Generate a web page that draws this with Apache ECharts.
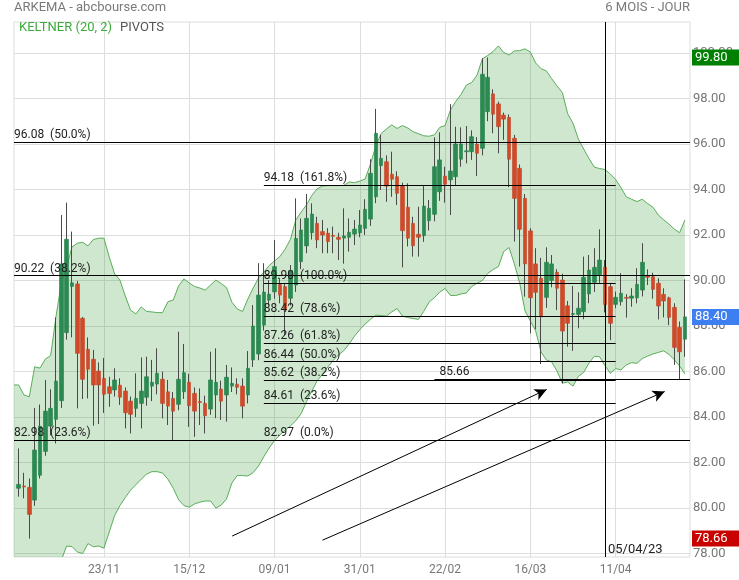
<!DOCTYPE html>
<html><head><meta charset="utf-8">
<script src="https://cdn.jsdelivr.net/npm/echarts@6/dist/echarts.min.js"></script>
<style>html,body{margin:0;padding:0;background:#fff}#c{width:739px;height:580px}</style>
</head><body><div id="c"></div>
<script>
// ---- data (index 0 = first session, 01/11/22) ----
const opens = [80.87,80.97,80.91,80.35,81.44,82.49,83.60,83.90,84.72,87.71,
89.74,89.85,88.34,86.98,86.54,86.02,85.70,85.33,85.19,85.40,
85.14,84.70,84.38,84.60,84.87,85.36,85.45,85.66,85.11,84.82,
84.56,85.11,85.53,85.04,84.68,84.60,84.35,84.97,85.23,84.97,
85.36,85.44,85.36,84.97,86.51,86.77,88.04,89.14,89.50,89.83,
89.73,89.22,89.80,90.83,91.52,92.10,92.51,92.15,92.08,91.98,
91.90,91.86,91.90,92.04,92.10,92.29,92.70,93.68,95.05,95.22,
94.67,94.56,94.17,93.22,92.51,92.03,91.97,92.63,92.91,93.90,
94.59,94.42,94.56,95.33,95.66,95.66,95.99,95.81,97.42,98.20,
97.76,97.27,97.17,96.25,94.93,93.61,92.18,90.73,90.10,89.26,
90.00,90.36,90.02,88.89,88.51,88.51,88.63,89.41,89.92,90.25,
90.58,89.73,88.95,89.07,89.26,89.22,89.24,89.58,90.20,90.17,
89.88,89.39,89.24,88.82,87.94,87.42];
const closes = [81.04,80.93,79.72,82.55,83.60,84.26,84.38,85.58,90.73,91.81,
89.90,86.80,85.66,86.10,85.41,85.41,85.00,85.04,85.63,84.87,
84.19,84.12,84.82,85.14,85.77,85.53,85.92,84.60,84.48,84.26,
85.66,85.95,84.50,84.26,84.64,84.06,85.63,85.53,84.70,85.75,
85.48,85.31,84.48,86.14,88.00,89.36,89.49,89.40,90.61,89.36,
88.70,90.43,91.85,92.22,92.73,92.92,91.78,92.00,91.71,91.94,
91.81,91.96,92.12,92.26,92.44,93.13,94.71,96.47,95.37,94.15,
94.45,93.83,92.19,91.86,91.53,91.90,93.27,93.17,95.00,95.30,
94.23,94.81,96.00,96.00,95.70,96.32,95.59,99.06,98.93,97.31,
96.76,97.09,95.33,93.61,92.25,90.73,89.24,89.48,88.41,90.80,
90.73,89.66,87.78,88.12,88.55,88.78,90.14,90.46,90.58,90.90,
88.95,88.12,89.26,89.44,89.22,89.32,89.83,90.80,90.14,89.61,
88.88,89.10,88.38,87.06,86.87,88.40];
const lows = [80.50,80.43,78.66,80.10,81.30,82.30,83.20,82.84,84.40,87.40,
87.50,84.38,84.79,84.82,83.62,83.69,84.18,84.45,84.90,84.53,
83.50,83.28,84.00,83.50,84.50,84.70,85.00,83.94,83.65,82.99,
84.30,84.80,83.57,83.13,83.65,83.28,84.10,83.95,83.87,83.80,
85.10,85.00,83.94,84.60,86.20,86.50,87.80,88.90,89.20,89.00,
87.60,88.90,89.50,90.50,91.20,91.80,91.42,91.20,91.20,91.20,
90.90,90.74,91.27,91.56,91.90,92.00,92.40,93.40,93.98,93.46,
93.68,93.32,90.58,91.50,91.05,91.05,91.70,92.20,92.60,93.50,
93.42,92.88,94.20,95.00,95.15,95.30,94.59,95.50,97.00,96.47,
95.59,96.18,94.10,91.71,90.61,89.29,87.68,87.86,86.33,88.80,
89.70,88.70,85.48,87.09,86.91,87.90,88.30,89.00,89.50,89.90,
88.60,87.38,88.78,88.90,88.37,88.85,89.00,89.30,89.80,89.20,
88.29,88.38,88.04,86.29,85.63,86.65];
const highs = [82.62,81.55,81.30,84.40,84.55,85.63,85.22,88.38,92.88,93.42,
92.15,89.98,88.40,87.50,86.95,86.40,86.60,85.77,86.14,85.70,
85.30,84.90,85.92,86.62,86.65,86.51,87.02,86.00,85.63,85.10,
87.75,87.21,85.90,85.30,85.26,84.94,86.87,87.02,85.60,86.29,
86.18,85.70,85.70,86.90,88.92,90.76,90.76,90.02,91.78,90.10,
89.90,90.68,93.61,92.73,93.80,93.39,92.80,92.66,92.30,92.37,
92.10,93.17,92.73,92.66,93.10,93.57,95.33,97.54,96.40,95.50,
95.66,94.80,94.30,94.27,92.80,93.24,94.20,93.54,96.29,96.51,
95.00,97.75,96.76,96.73,96.79,96.60,96.30,99.77,99.80,98.40,
97.86,97.38,97.30,96.40,95.10,93.80,92.30,91.42,91.00,91.46,
91.12,90.50,90.30,89.10,89.76,89.48,91.05,91.12,91.42,92.25,
90.90,89.90,89.51,90.32,89.40,89.66,90.54,91.64,90.49,90.34,
90.10,89.66,89.29,89.00,88.20,90.05];

// Keltner (20, 2) band, starting one session before the first candle
const bandStart = -1;
const keltnerUpper = [85.41,85.41,84.97,84.89,86.21,86.15,86.55,86.70,88.41,89.89,
90.59,91.47,91.64,91.68,91.52,91.80,91.86,91.86,91.03,90.29,
90.02,89.32,88.70,88.53,88.84,88.64,88.62,88.59,88.59,89.07,
89.14,89.76,90.07,89.89,89.74,89.67,89.58,89.80,90.02,89.87,
89.69,89.05,88.75,88.64,89.19,89.67,90.11,90.37,90.66,90.86,
91.05,91.38,91.82,92.66,93.01,93.32,93.74,94.03,94.15,94.17,
94.17,94.17,94.18,94.33,94.30,94.37,94.46,95.12,95.91,96.46,
96.66,96.84,96.68,96.81,96.70,96.54,96.45,96.36,96.34,96.40,
96.73,96.81,97.49,97.87,98.18,98.59,98.70,99.03,99.74,99.89,
100.06,100.31,100.02,99.91,100.09,100.10,100.18,100.04,99.56,99.31,
99.21,98.87,98.55,98.26,97.33,96.91,96.22,95.78,95.36,94.98,
94.92,94.88,94.68,94.44,94.08,93.68,93.57,93.47,93.57,93.38,
93.22,92.88,92.67,92.48,92.26,92.10,92.66];
const keltnerLower = [76.2,76.3,76.5,76.6,76.8,77.0,77.1,77.3,77.5,77.71,
78.33,78.31,78.07,78.00,78.44,78.30,78.33,78.24,78.95,79.67,
80.11,80.46,80.79,81.03,81.27,81.49,81.60,81.60,81.54,81.27,
80.87,80.37,80.11,80.04,80.18,80.26,80.31,80.31,80.00,80.13,
80.40,81.10,81.43,81.43,81.41,81.56,81.85,82.26,82.64,82.97,
83.21,83.43,83.61,83.84,84.15,84.68,85.14,85.59,85.89,86.20,
86.48,86.73,86.92,87.21,87.55,87.84,88.09,88.29,88.48,88.46,
88.44,88.62,88.77,88.44,88.37,88.33,88.29,88.64,89.05,89.25,
89.49,89.65,89.34,89.34,89.41,89.45,89.74,89.88,90.00,90.31,
90.48,90.61,91.27,91.45,90.73,89.89,88.66,88.22,87.78,86.86,
86.51,86.42,86.02,85.49,85.54,85.36,85.78,85.96,86.37,86.67,
86.65,86.26,85.92,86.13,86.07,86.29,86.39,86.36,86.57,86.68,
86.77,86.84,86.91,86.75,86.52,86.24,85.89];

const tickIdx = [16, 32, 48, 64, 80, 96, 112];
const tickLabels = ['23/11', '15/12', '09/01', '31/01', '22/02', '16/03', '11/04'];
const yTicks = [78, 80, 82, 84, 86, 88, 90, 92, 94, 96, 98, 100];

const fibLeftValues = [96.08, 90.22, 82.98];
const fibLeftPct = ['50.0%', '38.2%', '23.6%'];
const fibRightValues = [94.18, 89.90, 88.42, 87.26, 86.44, 85.62, 84.61, 82.97];
const fibRightPct = ['161.8%', '100.0%', '78.6%', '61.8%', '50.0%', '38.2%', '23.6%', '0.0%'];
const fibRightFrom = 46, fibRightTo = 112;
const supportValue = 85.66, supportFrom = 78;
const cursorIdx = 110, cursorLabel = '05/04/23';
// arrows: [fromIdx, fromValue, toIdx, toValue]
const arrows = [[40.05, 78.77, 99.06, 85.21], [57.0, 78.59, 121.2, 85.12]];
const periodHigh = 99.80, lastClose = 88.40, periodLow = 78.66;

const xMin = -0.875, xMax = 125.95, yMin = 77.85, yMax = 101.36;

// ---- build ----
const FONT = 'Roboto, sans-serif';
const wickData = opens.map((o, i) => [i, o, closes[i], lows[i], highs[i]]);
const bodyData = opens.map((o, i) => [i, o, closes[i], Math.min(o, closes[i]), Math.max(o, closes[i])]);
const bandData = keltnerUpper.map((v, k) => [k + bandStart, v, keltnerLower[k]]);

function renderBand(params, api) {
  if (params.dataIndex !== 0) return null;
  const up = bandData.map(d => api.coord([d[0], d[1]]));
  const lo = bandData.map(d => api.coord([d[0], d[2]]));
  const cs = params.coordSys;
  return {
    type: 'group',
    clipPath: {type: 'rect', shape: {x: cs.x, y: cs.y, width: cs.width, height: cs.height}},
    children: [
      {type: 'polygon', shape: {points: up.concat(lo.slice().reverse())}, style: {fill: 'rgba(60,160,60,0.25)', stroke: null}},
      {type: 'polyline', shape: {points: up}, style: {stroke: '#5aae5a', lineWidth: 1, fill: null}},
      {type: 'polyline', shape: {points: lo}, style: {stroke: '#5aae5a', lineWidth: 1, fill: null}}
    ]
  };
}

const lineLbl = {position: 'insideStartTop', color: '#222', fontSize: 12, fontFamily: FONT, distance: [0, 1]};
const ml = [];
fibLeftValues.forEach((v, k) => ml.push({yAxis: v, label: Object.assign({}, lineLbl, {formatter: v.toFixed(2) + '  (' + fibLeftPct[k] + ')'})}));
fibRightValues.forEach((v, k) => ml.push([
  {coord: [fibRightFrom, v], label: Object.assign({}, lineLbl, {formatter: v.toFixed(2) + '  (' + fibRightPct[k] + ')'})},
  {coord: [fibRightTo, v]}
]));
ml.push([{coord: [supportFrom, supportValue], label: Object.assign({}, lineLbl, {formatter: supportValue.toFixed(2), distance: [5, 1]})}, {coord: [xMax, supportValue]}]);
ml.push({xAxis: cursorIdx, label: {show: false}});
arrows.forEach(a => ml.push([
  {coord: [a[0], a[1]], symbol: 'none', label: {show: false}},
  {coord: [a[2], a[3]], symbol: 'arrow', symbolSize: [9, 12]}
]));
const boxes = [[periodHigh, '#008000'], [lastClose, '#3d7ef0'], [periodLow, '#c80000']];
boxes.forEach(b => ml.push({
  yAxis: b[0],
  lineStyle: {color: 'rgba(0,0,0,0)', width: 0},
  label: {show: true, position: 'end', distance: 2, formatter: b[0].toFixed(2), color: '#fff', backgroundColor: b[1],
    padding: [2, 14, 1, 3], fontSize: 13, fontFamily: FONT}
}));

const chart = echarts.init(document.getElementById('c'), null, {renderer: 'canvas'});
chart.setOption({
  animation: false,
  backgroundColor: '#fff',
  textStyle: {fontFamily: FONT},
  title: [
    {text: 'ARKEMA - abcbourse.com', left: 14, top: 1, padding: 0, textStyle: {fontSize: 13, color: '#7a7a7a', fontWeight: 'normal', fontFamily: FONT}},
    {text: '6 MOIS - JOUR', right: 49, top: 1, padding: 0, textStyle: {fontSize: 13, color: '#7a7a7a', fontWeight: 'normal', fontFamily: FONT}},
    {text: 'KELTNER (20, 2)', left: 19, top: 21, padding: 0, textStyle: {fontSize: 13, color: '#3cab3c', fontWeight: 'normal', fontFamily: FONT}},
    {text: 'PIVOTS', left: 120, top: 21, padding: 0, textStyle: {fontSize: 13, color: '#555', fontWeight: 'normal', fontFamily: FONT}}
  ],
  grid: {left: 14, right: 49, top: 22, bottom: 23, show: true, borderColor: '#ddd', borderWidth: 1, outerBoundsMode: 'none', containLabel: false},
  xAxis: {
    type: 'value', min: xMin, max: xMax,
    axisLine: {show: false},
    axisTick: {show: false, customValues: tickIdx},
    axisLabel: {customValues: tickIdx, formatter: v => tickLabels[tickIdx.indexOf(v)], color: '#777', fontSize: 12, margin: 7, fontFamily: FONT},
    splitLine: {show: true, lineStyle: {color: '#ddd', width: 1}}
  },
  yAxis: {
    type: 'value', position: 'right', min: yMin, max: yMax,
    axisLine: {show: false},
    axisTick: {show: false, customValues: yTicks},
    axisLabel: {customValues: yTicks, formatter: v => v.toFixed(2), color: '#777', fontSize: 13, margin: 3, fontFamily: FONT},
    splitLine: {show: true, lineStyle: {color: '#ddd', width: 1}}
  },
  series: [
    {type: 'custom', name: 'keltner', data: bandData, encode: {x: 0, y: 1}, renderItem: renderBand, clip: true, silent: true, z: 1},
    {type: 'candlestick', name: 'wick', data: wickData, barWidth: 1, z: 2,
      itemStyle: {color: '#4a4a4a', color0: '#4a4a4a', borderColor: '#4a4a4a', borderColor0: '#4a4a4a', borderWidth: 1}},
    {type: 'candlestick', name: 'body', data: bodyData, barWidth: 4, z: 3,
      itemStyle: {color: '#2a8a52', color0: '#d04a2a', borderColor: '#23804a', borderColor0: '#c44326', borderWidth: 0.6},
      markLine: {silent: true, z: 5, symbol: ['none', 'none'], precision: 2,
        lineStyle: {color: '#000', width: 1, type: 'solid'},
        label: {show: true},
        emphasis: {disabled: true},
        data: ml},
      markPoint: {silent: true, z: 5, symbol: 'circle', symbolSize: 0,
        data: [{coord: [cursorIdx, 78.15], label: {show: true, position: 'right', distance: 3, formatter: cursorLabel, color: '#222', fontSize: 13, fontFamily: FONT}}]}
    }
  ]
});
</script></body></html>
